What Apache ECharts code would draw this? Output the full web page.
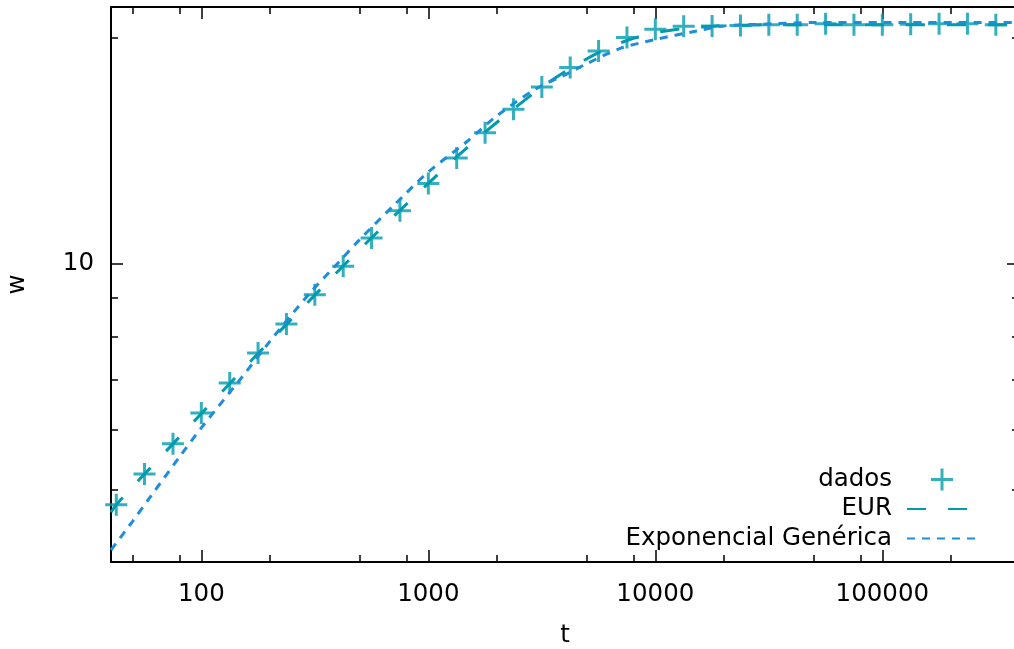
<!DOCTYPE html>
<html>
<head>
<meta charset="utf-8">
<script src="https://cdn.jsdelivr.net/npm/echarts@6/dist/echarts.min.js"></script>
<style>
  html, body { margin: 0; padding: 0; background: #fff; }
  #main { width: 1014px; height: 649px; }
</style>
</head>
<body>
<div id="main"></div>
<script>
// valores (t no eixo x, w no eixo y)
var tDados = [42.2, 56.2, 75, 100, 133.4, 177.8, 237.1, 316.2, 421.7, 562.3, 749.9, 1000,
  1333.5, 1778.3, 2371.4, 3162.3, 4217, 5623.4, 7498.9, 10000, 13335, 17783, 23714, 31623,
  42170, 56234, 74989, 100000, 133352, 177828, 237137, 316228];
var wDados = [4.77, 5.24, 5.75, 6.32, 6.93, 7.60, 8.31, 9.09, 9.92, 10.82, 11.77, 12.79,
  13.84, 14.95, 16.07, 17.21, 18.27, 19.22, 20.03, 20.55, 20.74, 20.76, 20.78, 20.84,
  20.84, 20.90, 20.84, 20.84, 20.87, 20.90, 20.90, 20.84];

var tEur = [40, 42.2, 56.2, 75, 100, 133.4, 177.8, 237.1, 316.2, 421.7, 562.3, 749.9, 1000,
  1333.5, 1778.3, 2371.4, 3162.3, 4217, 5623.4, 7498.9, 10000, 13335, 17783, 23714, 31623,
  56234, 100000, 400000];
var wEur = [4.66, 4.77, 5.24, 5.75, 6.31, 6.92, 7.59, 8.30, 9.08, 9.93, 10.83, 11.78, 12.80,
  13.88, 14.98, 16.08, 17.20, 18.22, 19.12, 19.85, 20.33, 20.60, 20.74, 20.80, 20.83,
  20.84, 20.84, 20.84];

var tExp = [40, 50, 60, 80, 100, 150, 200, 300, 400, 500, 700, 1000, 1500, 2000, 3000,
  4000, 5000, 7000, 10000, 15000, 20000, 30000, 50000, 100000, 400000];
var wExp = [4.15, 4.54, 4.90, 5.52, 6.04, 7.04, 7.87, 9.13, 10.02, 10.78, 11.94, 13.25,
  14.60, 15.74, 17.13, 17.86, 18.49, 19.37, 19.91, 20.42, 20.76, 20.87, 20.98, 20.97, 20.98];

// marcas dos eixos
var xMaior = [100, 1000, 10000, 100000];
var xMenor = [50, 80, 200, 500, 800, 2000, 5000, 8000, 20000, 50000, 80000, 200000];
var yMaior = [10];
var yMenor = [5, 6, 7, 8, 9, 20];

var fonte = 'DejaVu Sans';
var corDados = '#009bac';
var corEur = '#009bac';
var corExp = '#1e8edc';
var cruz = 'path://M9.5,0h3v9.5h9.5v3h-9.5v9.5h-3v-9.5h-9.5v-3h9.5z';
var invisivel = { color: 'rgba(0,0,0,0)', borderColor: 'rgba(0,0,0,0)', borderWidth: 0 };

function pares(xs, ys) {
  return xs.map(function (x, i) { return [x, ys[i]]; });
}

function eixo(tipo, pos, valores, comp, rotulos, extra) {
  var e = {
    type: 'log',
    logBase: 10,
    position: pos,
    min: tipo === 'x' ? 40 : 4,
    max: tipo === 'x' ? 400000 : 22,
    splitLine: { show: false },
    minorTick: { show: false },
    axisLine: { show: true, lineStyle: { color: '#000', width: 2 } },
    axisTick: {
      show: true, inside: true, length: comp, customValues: valores,
      lineStyle: { color: '#000', width: 1.5 }
    },
    axisLabel: rotulos ? {
      show: true, customValues: valores, margin: tipo === 'x' ? 20 : 17,
      padding: tipo === 'x' ? 0 : [6, 0, 0, 0],
      fontFamily: fonte, fontSize: 24.5, color: '#000',
      formatter: function (v) { return String(Math.round(v)); }
    } : { show: false }
  };
  return Object.assign(e, extra || {});
}

var chart = echarts.init(document.getElementById('main'));

var option = {
  animation: false,
  backgroundColor: '#fff',
  grid: { left: 111, top: 7, right: -5, bottom: 87, containLabel: false, outerBoundsMode: 'none' },
  legend: {
    orient: 'vertical',
    right: 31,
    top: 462,
    align: 'right',
    itemWidth: 70,
    itemHeight: 22,
    itemGap: 4.5,
    selectedMode: false,
    textStyle: { fontFamily: fonte, fontSize: 24.5, color: '#000', padding: [0, 10, 0, 0] },
    data: [
      'dados',
      { name: 'EUR', itemStyle: invisivel },
      { name: 'Exponencial Genérica', itemStyle: invisivel }
    ]
  },
  xAxis: [
    eixo('x', 'bottom', xMaior, 12, true, {
      name: 't', nameLocation: 'middle', nameGap: 61,
      nameTextStyle: { fontFamily: fonte, fontSize: 24.5, color: '#000' }
    }),
    eixo('x', 'bottom', xMenor, 7, false),
    eixo('x', 'top', xMaior, 12, false),
    eixo('x', 'top', xMenor, 7, false)
  ],
  yAxis: [
    eixo('y', 'left', yMaior, 12, true, {
      name: 'w', nameLocation: 'middle', nameGap: 81,
      nameTextStyle: { fontFamily: fonte, fontSize: 24.5, color: '#000' }
    }),
    eixo('y', 'left', yMenor, 7, false),
    eixo('y', 'right', yMaior, 12, false),
    eixo('y', 'right', yMenor, 7, false)
  ],
  series: [
    {
      name: 'dados',
      type: 'scatter',
      symbol: cruz,
      symbolSize: 22,
      symbolKeepAspect: true,
      itemStyle: { color: corDados },
      data: pares(tDados, wDados)
    },
    {
      name: 'EUR',
      type: 'line',
      symbol: 'none',
      smooth: 0.3,
      lineStyle: { color: corEur, width: 3, type: [19, 22] },
      itemStyle: { color: corEur },
      data: pares(tEur, wEur)
    },
    {
      name: 'Exponencial Genérica',
      type: 'line',
      symbol: 'none',
      smooth: 0.3,
      lineStyle: { color: corExp, width: 3, type: [8, 7] },
      itemStyle: { color: corExp },
      data: pares(tExp, wExp)
    }
  ]
};

chart.setOption(option);
</script>
</body>
</html>
